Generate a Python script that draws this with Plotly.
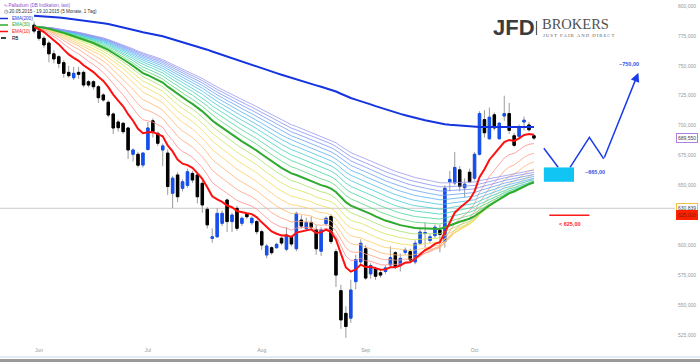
import numpy as np
import pandas as pd
import plotly.graph_objects as go

# ---------------- data ----------------
chart_start = "2015-05-20"
first_day = "2015-05-29"
last_day = "2015-10-19"

opens = [784, 779, 773, 769, 760, 757.6, 752.6, 744.5, 740, 744.5, 744.5, 736.7, 736.7, 732.5, 725.6,
         719.5, 709.7, 703, 701.9, 698, 676, 676, 667, 680, 704, 693.5, 679.6,
         677, 643.4, 658.7, 647.5, 650, 660, 658.7, 651.7, 630, 605.7, 607, 618.3, 637.8, 619.7, 630.8,
         618.3, 625.8, 618.8, 619.7, 611.3, 591.8, 597.9, 597.9, 605.8, 596.6, 606.6,
         597, 621, 614, 619, 613, 595, 618, 624, 594.6, 562, 543, 539, 569.5, 586, 597, 576, 580, 577,
         578, 583.5, 593.7, 583.4, 594, 594.6, 586, 601.6, 610, 604, 608, 612.5,
         603, 653, 652, 663, 648, 661, 656, 676, 705, 689, 709, 689, 708, 710, 691.5, 691, 703, 700.5, 691.5]
highs = [787, 780, 775, 771, 763, 759, 755, 750, 749, 749, 746, 738, 738, 734, 727,
         721, 711, 705, 703, 699, 681, 678, 678, 703, 706, 695, 685,
         680, 658, 661, 655, 664, 662, 661, 654, 632, 614, 631, 629, 639, 627, 633,
         624, 627, 624, 621, 613, 601, 599, 602, 607, 615, 608,
         628, 625, 623, 624, 617, 615, 624, 626, 597, 567, 549, 571, 592, 605, 600, 585, 582, 579,
         583, 599, 595, 593, 598, 597, 604, 614, 619, 609, 617, 617,
         650, 662, 678, 666, 656, 664, 678, 712, 713, 715, 711, 703, 725, 719, 694, 701, 707.5, 703, 693]
lows = [777, 771, 765, 753, 752, 748, 740, 740, 738, 739, 732, 732, 730, 719, 720,
        707, 693, 695, 693, 672, 670, 665, 665, 679, 690, 683, 666,
        642, 631, 636, 645, 648, 652, 635, 627, 614, 602, 606, 616, 611, 611, 612,
        616, 622, 617, 609, 596, 589, 592, 597, 600, 595, 599,
        595, 614, 612, 613, 592, 591, 616, 601, 565, 530, 522.5, 535, 563, 584, 571, 572, 571, 573,
        576, 581, 580, 578, 592, 585, 584, 600, 598, 602, 606, 594,
        598, 645, 650, 645, 640, 652, 654, 675, 690, 688, 696, 688, 704, 693, 682, 689, 696, 695, 688]
closes = [779, 773, 767.4, 760, 755.7, 752, 743.7, 741.7, 743.7, 742.9, 733.9, 733.9, 732.5, 723.3, 721.4,
          708.8, 698, 698.2, 694.9, 679.6, 679.6, 666.9, 677, 698, 695, 685.2, 683,
          649, 656, 640.5, 653, 661.4, 654.5, 640.5, 633.6, 617, 607, 626.6, 626.6, 619.7, 625.2, 614.1,
          622.5, 623.8, 622.5, 611.3, 600.1, 599.3, 593.7, 600.7, 601.8, 608.5, 601,
          626.6, 616, 619, 615, 597, 613, 622.5, 603, 575, 537.5, 532, 562.5, 588, 601.6, 572.5, 583, 574, 575,
          581, 589.5, 582, 589, 596, 587.6, 601.6, 611, 610.5, 607, 615, 609,
          647.6, 655, 665, 649, 651, 653, 676, 710, 694, 707, 698, 702, 710, 696, 683.5, 699, 704.5, 696.5, 689.55]

ribbon_start = 783.0      # level of the EMA ribbon at the left edge
ema200_start = 792.0      # level of EMA(200) at the left edge
fast_period, mid_period, slow_period = 10, 50, 200
ribbon_periods = [15, 20, 25, 30, 35, 40, 45, 55, 60, 65, 70, 75, 80, 85, 90, 95, 100]
ribbon_colors = ["#ff8c8c", "#ffa07e", "#ffb670", "#ffcc64", "#f0dc58", "#d4e458", "#a8e062",
                 "#58d47e", "#48d49c", "#42d2b8", "#44cad2", "#4cbee6", "#58b0f0", "#68a2f2", "#7896f2", "#8a92f0", "#9c98ee"]

month_labels = ["Jun", "Jul", "Aug", "Sep", "Oct"]
month_starts = ["2015-06-01", "2015-07-01", "2015-08-03", "2015-09-01", "2015-10-01"]

y_ticks = [525, 550, 575, 600, 650, 675, 700, 725, 750, 775, 800]
y_ticktext = ["525,000", "550,000", "575,000", "600,000", "650,000", "675,000", "700,000",
              "725,000", "750,000", "775,000", "800,000"]

last_price = 689.55
price_line = 630.839
support_level = 625.0
target_low = [653.0, 665.0]
scenario_path_x = [110.0, 112.9, None, 115.3, 119.2, 122.1]
scenario_path_y = [681.0, 665.1, None, 665.1, 690.2, 672.1]
scenario_arrow = [(122.1, 672.1), (129.1, 744.2)]
box_x = [110.0, 116.1]
support_x = [111.1, 119.2]

# ---------------- derived ----------------
dates = pd.bdate_range(first_day, last_day)
xs = np.busday_count(chart_start, np.array(dates.date, dtype="datetime64[D]")).astype(float)
tick_x = [float(np.busday_count(chart_start, m)) for m in month_starts]

def ema(vals, period, start):
    a = 2.0 / (period + 1)
    out, e = [], start
    for v in vals:
        e = e + a * (v - e)
        out.append(e)
    return out

fig = go.Figure()

for p, c in zip(ribbon_periods, ribbon_colors):
    fig.add_trace(go.Scatter(x=xs, y=ema(closes, p, ribbon_start), mode="lines",
                             line=dict(color=c, width=0.8), hoverinfo="skip"))
fig.add_trace(go.Scatter(x=xs, y=ema(closes, mid_period, ribbon_start), mode="lines",
                         line=dict(color="#2eaa2e", width=2), hoverinfo="skip"))
fig.add_trace(go.Scatter(x=xs, y=ema(closes, fast_period, ribbon_start), mode="lines",
                         line=dict(color="#ff1010", width=2), hoverinfo="skip"))
fig.add_trace(go.Scatter(x=xs, y=ema(closes, slow_period, ema200_start), mode="lines",
                         line=dict(color="#1434e0", width=2), hoverinfo="skip"))

# wicks (gray) then bodies
fig.add_trace(go.Candlestick(x=xs, open=opens, high=highs, low=lows, close=closes,
                             increasing=dict(line=dict(color="#9a9a9a", width=1), fillcolor="#9a9a9a"),
                             decreasing=dict(line=dict(color="#9a9a9a", width=1), fillcolor="#9a9a9a"),
                             whiskerwidth=0, hoverinfo="skip"))
body_hi = [max(o, c) for o, c in zip(opens, closes)]
body_lo = [min(o, c) for o, c in zip(opens, closes)]
fig.add_trace(go.Candlestick(x=xs, open=opens, high=body_hi, low=body_lo, close=closes,
                             increasing=dict(line=dict(color="#1450f0", width=1), fillcolor="#1450f0"),
                             decreasing=dict(line=dict(color="#000000", width=1), fillcolor="#000000"),
                             whiskerwidth=0, hoverinfo="skip"))

# scenario drawing
fig.add_trace(go.Scatter(x=scenario_path_x, y=scenario_path_y, mode="lines",
                         line=dict(color="#1a3ce8", width=1.5), hoverinfo="skip"))

W, H = 675.0, 346.0
def px(x):
    return x / W
def py(y):
    return 1 - y / H

shapes = [
    dict(type="line", xref="paper", yref="y", x0=0, x1=1, y0=price_line, y1=price_line,
         line=dict(color="#c8c8c8", width=1), layer="below"),
    dict(type="rect", xref="x", yref="y", x0=box_x[0], x1=box_x[1], y0=target_low[0], y1=target_low[1],
         fillcolor="#10c4f4", line=dict(width=0)),
    dict(type="line", xref="x", yref="y", x0=support_x[0], x1=support_x[1], y0=support_level, y1=support_level,
         line=dict(color="#ff1a1a", width=1.5)),
    # legend swatches
    dict(type="line", xref="paper", yref="paper", x0=px(0), x1=px(8), y0=py(18.5), y1=py(18.5),
         line=dict(color="#1434e0", width=1.5)),
    dict(type="line", xref="paper", yref="paper", x0=px(0), x1=px(8), y0=py(25), y1=py(25),
         line=dict(color="#2eaa2e", width=1.5)),
    dict(type="line", xref="paper", yref="paper", x0=px(0), x1=px(8), y0=py(31.5), y1=py(31.5),
         line=dict(color="#ff1010", width=1.5)),
    dict(type="line", xref="paper", yref="paper", x0=px(1), x1=px(6), y0=py(38), y1=py(38),
         line=dict(color="#000000", width=1.5)),
    # logo divider
    dict(type="line", xref="paper", yref="paper", x0=px(536.5), x1=px(536.5), y0=py(21), y1=py(35),
         line=dict(color="#555555", width=1.2)),
    # bottom frame
    dict(type="line", xref="paper", yref="paper", x0=0, x1=700 / W, y0=py(357), y1=py(357),
         line=dict(color="#c6d6ee", width=1)),
    dict(type="rect", xref="paper", yref="paper", x0=0, x1=700 / W, y0=py(362), y1=py(359),
         fillcolor="#9a9a9a", line=dict(width=0)),
]

ann = []
def txt(x, y, s, color, size, xanchor="left", family="Liberation Sans", bold=False):
    if bold:
        s = "<b>" + s + "</b>"
    ann.append(dict(xref="paper", yref="paper", x=px(x), y=py(y), text=s, showarrow=False,
                    xanchor=xanchor, yanchor="middle", font=dict(color=color, size=size, family=family)))

txt(2, 5, "ᵃᵥ Palladium (DB Indikation, last)", "#9050d0", 4.6)
txt(2, 12, "◷ 20.05.2015 - 19.10.2015 (5 Monate, 1 Tag)", "#333333", 4.6)
txt(10, 18.5, "EMA(200)", "#1434e0", 4.6)
txt(10, 25, "EMA(30)", "#2eaa2e", 4.6)
txt(10, 31.5, "EMA(10)", "#ff1010", 4.6)
txt(10, 38, "RB", "#000000", 4.6)

tagline = "\u2009".join("JUST FAIR AND DIRECT")
txt(514, 28, "JFD", "#3c3c3c", 22, xanchor="center", bold=True)
txt(540, 24, "BROKERS", "#505050", 14.5, family="Liberation Serif")
txt(541, 35.5, tagline, "#606060", 4.8, family="Liberation Serif")

# scenario labels
ann.append(dict(xref="x", yref="y", x=scenario_arrow[1][0], y=scenario_arrow[1][1],
                ax=scenario_arrow[0][0], ay=scenario_arrow[0][1], axref="x", ayref="y",
                showarrow=True, arrowhead=2, arrowsize=1.2, arrowwidth=1.5, arrowcolor="#1a3ce8", text=""))
ann.append(dict(xref="x", yref="y", x=127.2, y=751.9, text="<b>~750,00</b>", showarrow=False,
                font=dict(color="#3050e0", size=5.5, family="Liberation Sans")))
ann.append(dict(xref="x", yref="y", x=120.3, y=661.2, text="<b>~665,00</b>", showarrow=False,
                font=dict(color="#3050e0", size=5.5, family="Liberation Sans")))
ann.append(dict(xref="x", yref="y", x=115.3, y=617.7, text="<b>&lt; 625,00</b>", showarrow=False,
                font=dict(color="#ff2020", size=5.5, family="Liberation Sans")))

# price boxes on the axis
def pricebox(y, s, border, bg, fc):
    ann.append(dict(xref="paper", yref="y", x=1.002, y=y, text=s, showarrow=False, xanchor="left",
                    yanchor="middle", bgcolor=bg, bordercolor=border, borderwidth=1, borderpad=1,
                    font=dict(color=fc, size=5, family="Liberation Sans")))

pricebox(last_price, "689,550", "#b080e0", "#ffffff", "#444444")
pricebox(price_line, "630,839", "#f0c040", "#ffffff", "#444444")
pricebox(support_level, "625,000", "#ff2000", "#ff2000", "#802000")

fig.update_layout(
    width=700, height=362,
    margin=dict(l=0, r=25, t=0, b=16, autoexpand=False),
    paper_bgcolor="white", plot_bgcolor="white",
    showlegend=False, hovermode=False,
    shapes=shapes, annotations=ann,
    xaxis=dict(range=[0.12, 136.5], showgrid=False, zeroline=False, rangeslider=dict(visible=False),
               tickvals=tick_x, ticktext=month_labels, ticks="", automargin=False,
               tickfont=dict(size=5, color="#999999", family="Liberation Sans"), showline=False),
    yaxis=dict(range=[515.7, 805.0], side="right", showgrid=False, zeroline=False,
               tickvals=y_ticks, ticktext=y_ticktext, ticks="", automargin=False, ticklabelstandoff=2,
               tickfont=dict(size=5, color="#999999", family="Liberation Sans"), showline=False),
)

fig.write_html("out.html", config={"displayModeBar": False},
               post_script="document.body.style.margin='0';document.body.style.overflow='hidden';")
